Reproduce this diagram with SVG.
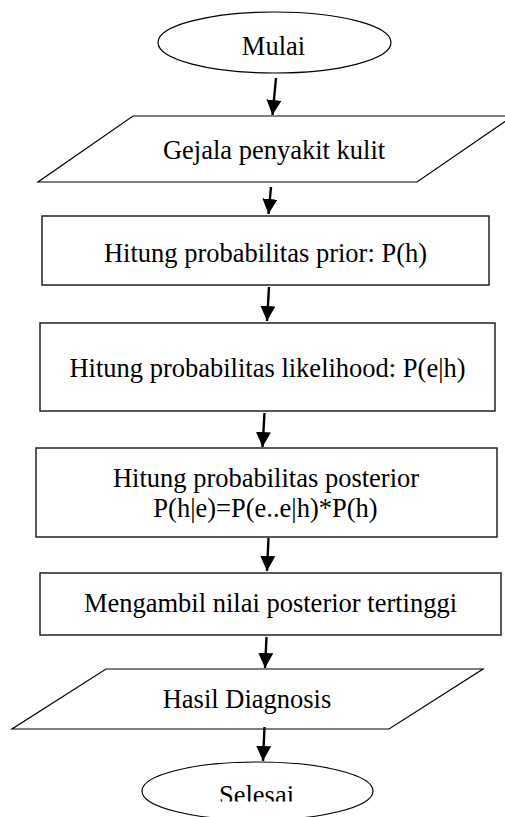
<svg xmlns="http://www.w3.org/2000/svg" width="505" height="817" viewBox="0 0 505 817">
<defs>
<marker id="ah" viewBox="0 0 10 10" refX="10" refY="5" markerWidth="15" markerHeight="15" markerUnits="userSpaceOnUse" orient="auto">
<path d="M0,0 L10,5 L0,10 z" fill="#000"/>
</marker>
<clipPath id="clipSel"><rect x="0" y="0" width="505" height="801.5"/></clipPath>
</defs>
<style>
.sh{fill:#fff;stroke:#000;stroke-width:1.2}
.bx{fill:#fff;stroke:#222;stroke-width:1.5}
.t{font-family:"Liberation Serif","Times New Roman",serif;font-size:26.5px;fill:#000;text-anchor:middle}
.cn{stroke:#000;stroke-width:2.4;fill:none;marker-end:url(#ah)}
</style>
<rect width="505" height="817" fill="#fff"/>
<g id="mulai">
<ellipse class="sh" cx="274.5" cy="42.5" rx="116.5" ry="30.5"/>
<text class="t" x="273.5" y="55">Mulai</text>
</g>
<g id="gejala">
<polygon class="sh" points="133,116 513,116 417,182 38,182"/>
<text class="t" x="274" y="159">Gejala penyakit kulit</text>
</g>
<g id="prior">
<rect class="bx" x="42" y="216" width="447" height="69"/>
<text class="t" x="265.5" y="262">Hitung probabilitas prior: P(h)</text>
</g>
<g id="likelihood">
<rect class="bx" x="40" y="323" width="455" height="88"/>
<text class="t" x="267.5" y="377">Hitung probabilitas likelihood: P(e|h)</text>
</g>
<g id="posterior">
<rect class="bx" x="36" y="448" width="461" height="89"/>
<text class="t" x="266" y="487">Hitung probabilitas posterior</text>
<text class="t" x="265.5" y="517">P(h|e)=P(e..e|h)*P(h)</text>
</g>
<g id="tertinggi">
<rect class="bx" x="40" y="573" width="461" height="62"/>
<text class="t" x="270.5" y="612">Mengambil nilai posterior tertinggi</text>
</g>
<g id="hasil">
<polygon class="sh" points="106,669 483,669 389,729 12,729"/>
<text class="t" x="247" y="708">Hasil Diagnosis</text>
</g>
<g id="selesai">
<ellipse class="sh" cx="257.5" cy="791" rx="115.5" ry="29"/>
<text class="t" x="256.5" y="804" clip-path="url(#clipSel)">Selesai</text>
</g>
<g id="connectors">
<line class="cn" x1="276" y1="78" x2="272.5" y2="115"/>
<line class="cn" x1="271" y1="187" x2="268.5" y2="214"/>
<line class="cn" x1="269" y1="287" x2="267" y2="321"/>
<line class="cn" x1="264.5" y1="413" x2="262.5" y2="447"/>
<line class="cn" x1="268.5" y1="538" x2="267" y2="571"/>
<line class="cn" x1="266.5" y1="637" x2="265" y2="668"/>
<line class="cn" x1="264.5" y1="727" x2="263" y2="761"/>
</g>
</svg>
